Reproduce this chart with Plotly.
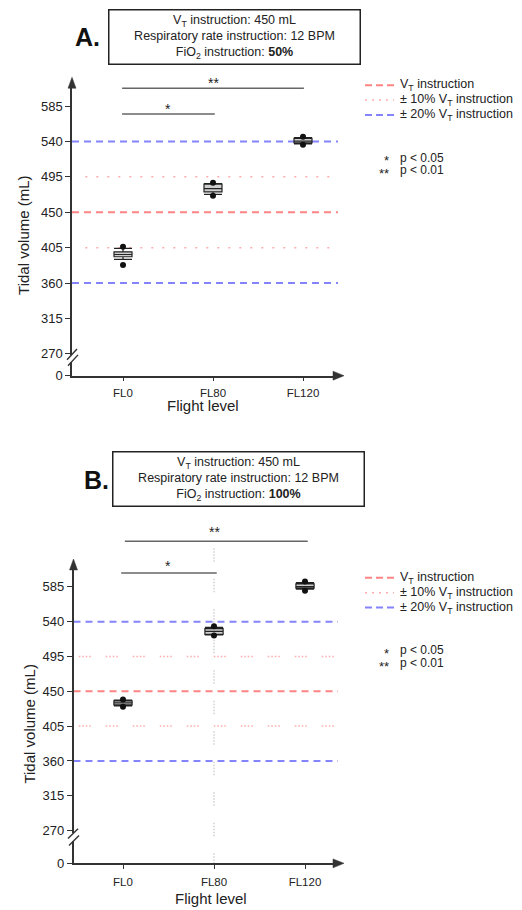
import plotly.graph_objects as go

W, H = 522, 910

categories = ["FL0", "FL80", "FL120"]
y_ticks = [270, 315, 360, 405, 450, 495, 540, 585]

# Reference values (mL)
vt_instruction = 450
vt_10 = [405, 495]
vt_20 = [360, 540]

# Panel A (FiO2 50 %) box statistics, mL
a_lowfence = [390.0, 472.8, 537.0]
a_q1 = [393.4, 476.0, 538.3]
a_median = [396.3, 480.0, 540.4]
a_q3 = [399.7, 485.7, 544.0]
a_upfence = [404.0, 486.5, 545.0]
a_points_x = ["FL0", "FL0", "FL80", "FL80", "FL120", "FL120"]
a_points_y = [406.0, 383.0, 487.5, 471.0, 546.0, 535.7]

# Panel B (FiO2 100 %) box statistics, mL
b_lowfence = [431.0, 523.0, 582.0]
b_q1 = [432.5, 523.5, 583.3]
b_median = [435.0, 527.4, 585.3]
b_q3 = [437.5, 531.0, 588.8]
b_upfence = [438.5, 532.5, 590.5]
b_points_x = ["FL0", "FL0", "FL80", "FL80", "FL120", "FL120"]
b_points_y = [439.5, 430.0, 534.0, 522.0, 591.8, 580.0]


def X(px):
    return px / W


def Y(py):
    return 1 - py / H


FONT = "Liberation Sans, Arial, sans-serif"
TXT = "#222222"
AX = "#333333"
RED = "rgba(255,110,110,0.85)"
BLUE = "rgba(110,110,255,0.85)"
PINK = "rgba(255,150,150,0.8)"

fig = go.Figure()

panels = [
    dict(xa="x", ya="y", ys="y2", lowf=a_lowfence, q1=a_q1, med=a_median, q3=a_q3,
         upf=a_upfence, px=a_points_x, py=a_points_y),
    dict(xa="x2", ya="y3", ys="y4", lowf=b_lowfence, q1=b_q1, med=b_median, q3=b_q3,
         upf=b_upfence, px=b_points_x, py=b_points_y),
]

for p in panels:
    fig.add_trace(go.Box(
        x=categories, q1=p["q1"], median=p["med"], q3=p["q3"],
        lowerfence=p["lowf"], upperfence=p["upf"],
        xaxis=p["xa"], yaxis=p["ya"], width=0.2, whiskerwidth=1,
        fillcolor="#cfcfcf", line=dict(color="#222222", width=1.2),
        boxpoints=False, hoverinfo="skip", showlegend=False))
    fig.add_trace(go.Scatter(
        x=p["px"], y=p["py"], mode="markers", xaxis=p["xa"], yaxis=p["ya"],
        marker=dict(color="#111111", size=6), hoverinfo="skip", showlegend=False))
    fig.add_trace(go.Scatter(x=[], y=[], xaxis=p["xa"], yaxis=p["ys"],
                             showlegend=False, hoverinfo="skip"))

shapes = []
annotations = []


def ann(x, y, text, size=12, xanchor="center", yanchor="middle", xref="paper",
        yref="paper", **kw):
    d = dict(xref=xref, yref=yref, x=x, y=y, text=text, showarrow=False,
             xanchor=xanchor, yanchor=yanchor,
             font=dict(family=FONT, size=size, color=kw.pop("color", TXT)))
    d.update(kw)
    annotations.append(d)


dotdash_a = "2px,9px"
dotdash_b = "1.5px,2px,1.5px,2px,1.5px,2px,1.5px,15px"

for xa, ya, dots, x0dot in [("x", "y", dotdash_a, 0.05), ("x2", "y3", dotdash_b, 0.02)]:
    xd = xa + " domain"
    shapes.append(dict(type="line", xref=xd, yref=ya, x0=0, x1=1, y0=vt_instruction,
                       y1=vt_instruction, line=dict(color=RED, width=2, dash="7px,5px"),
                       layer="below"))
    for v in vt_20:
        shapes.append(dict(type="line", xref=xd, yref=ya, x0=0, x1=1, y0=v, y1=v,
                           line=dict(color=BLUE, width=2, dash="7px,5px"), layer="below"))
    for v in vt_10:
        shapes.append(dict(type="line", xref=xd, yref=ya, x0=x0dot, x1=1, y0=v, y1=v,
                           line=dict(color=PINK, width=1.5, dash=dots), layer="below"))

# faint gray dotted vertical line at FL80 in panel B
shapes.append(dict(type="line", xref="x2", yref="paper", x0="FL80", x1="FL80",
                   y0=Y(553), y1=Y(872),
                   line=dict(color="#c4c4c4", width=1.2,
                             dash="1.5px,1.5px,1.5px,1.5px,1.5px,1.5px,1.5px,1.5px,1.5px,17px"),
                   layer="below"))


def bracket(xa, c0, c1, py, label, label_x, label_py):
    shapes.append(dict(type="line", xref=xa, yref="paper", x0=c0, x1=c1,
                       y0=Y(py), y1=Y(py), line=dict(color="#666666", width=1.5)))
    ann(label_x, Y(label_py), label, size=14, xref=xa)


bracket("x", -0.01, 2.01, 89, "**", 1.0, 84)
bracket("x", -0.01, 1.02, 115, "*", 0.5, 110)
bracket("x2", 0.02, 2.03, 546, "**", 1.0, 537)
bracket("x2", -0.02, 1.03, 578, "*", 0.49, 571)


def tri_up(px, py):
    return dict(type="path", xref="paper", yref="paper",
                path=f"M {X(px)},{Y(py)} L {X(px-4)},{Y(py+11)} L {X(px+4)},{Y(py+11)} Z",
                fillcolor=AX, line=dict(color=AX, width=0.5))


def tri_right(px, py):
    return dict(type="path", xref="paper", yref="paper",
                path=f"M {X(px)},{Y(py)} L {X(px-11)},{Y(py-4.5)} L {X(px-11)},{Y(py+4.5)} Z",
                fillcolor=AX, line=dict(color=AX, width=0.5))


def stroke(x0, y0, x1, y1):
    return dict(type="line", xref="paper", yref="paper", x0=X(x0), y0=Y(y0),
                x1=X(x1), y1=Y(y1), line=dict(color=AX, width=1.4))


shapes += [tri_up(72, 78), tri_right(344, 379), tri_up(73.5, 564), tri_right(344, 871)]
shapes += [stroke(67, 363, 77, 352), stroke(68, 369, 78, 358)]
shapes += [stroke(68, 846, 78, 836), stroke(69, 853, 79, 843)]


def title_box(cx, cy, fio2, letter, lx, ly):
    ann(X(cx), Y(cy),
        ("V<sub>T</sub> instruction: 450 mL<br>Respiratory rate instruction: 12 BPM"
         f"<br>FiO<sub>2</sub> instruction: <b>{fio2}</b>"),
        size=12.5, align="center", width=244, height=47, borderpad=3,
        bordercolor="#222222", borderwidth=1.5, bgcolor="white")
    ann(X(lx), Y(ly), f"<b>{letter}</b>", size=25, color="#111111")


title_box(234, 37.5, "50%", "A.", 87, 37)
title_box(238, 483, "100%", "B.", 96, 484)


def legend(top):
    rows = [("V<sub>T</sub> instruction", RED, 2, "7px,4px"),
            ("± 10% V<sub>T</sub> instruction", PINK, 1.5, "2px,5px"),
            ("± 20% V<sub>T</sub> instruction", BLUE, 2, "7px,4px")]
    for i, (txt, col, w, d) in enumerate(rows):
        py = top + i * 15
        shapes.append(dict(type="line", xref="paper", yref="paper", x0=X(365), x1=X(394),
                           y0=Y(py), y1=Y(py), line=dict(color=col, width=w, dash=d)))
        ann(X(398), Y(py), txt, size=12.5, xanchor="left")
    for j, (st, lab) in enumerate([("*", "p < 0.05"), ("**", "p < 0.01")]):
        py = top + 73 + j * 13
        ann(X(391), Y(py + 3), st, size=13, xanchor="right")
        ann(X(398), Y(py), lab, size=12, xanchor="left")


legend(86)
legend(583)

for (tx, ty, tanchor, rx, ry) in [(203, 409, "middle", 24, 238), (211, 896, "top", 30, 731)]:
    ann(X(tx), Y(ty), "Flight level", size=15, yanchor=tanchor)
    ann(X(rx), Y(ry), "Tidal volume (mL)", size=15, textangle=-90)

common_axis = dict(showline=True, linecolor=AX, linewidth=1.5, showgrid=False,
                   zeroline=False, ticks="outside", tickwidth=1.2,
                   tickcolor=AX, fixedrange=True)
yfont = dict(family=FONT, size=13, color=TXT)
xfont = dict(family=FONT, size=11.5, color=TXT)

fig.update_layout(
    width=W, height=H, margin=dict(l=0, r=0, t=0, b=0),
    paper_bgcolor="white", plot_bgcolor="rgba(0,0,0,0)", showlegend=False,
    xaxis=dict(domain=[X(72), X(338)], anchor="y2", type="category",
               categoryorder="array", categoryarray=categories,
               range=[(72 - 123) / 90, (338 - 123) / 90], ticklen=4, tickfont=xfont,
               ticklabelstandoff=2, **common_axis),
    yaxis=dict(domain=[Y(358), Y(84)], anchor="x", range=[268.7, 614.0],
               tickvals=y_ticks, ticklen=5, tickfont=yfont, **common_axis),
    yaxis2=dict(domain=[Y(379), Y(365)], anchor="x", range=[0, 17.6],
                tickvals=[0], ticklen=5, tickfont=yfont, **common_axis),
    xaxis2=dict(domain=[X(73.5), X(338)], anchor="y4", type="category",
                categoryorder="array", categoryarray=categories,
                range=[(73.5 - 123) / 91, (338 - 123) / 91], ticklen=4, tickfont=xfont,
                ticklabelstandoff=3, **common_axis),
    yaxis3=dict(domain=[Y(840), Y(570)], anchor="x2", range=[267.4, 613.2],
                tickvals=y_ticks, ticklen=5, tickfont=yfont, **common_axis),
    yaxis4=dict(domain=[Y(871), Y(848)], anchor="x2", range=[0, 29.4],
                tickvals=[0], ticklen=5, tickfont=yfont, **common_axis),
    shapes=shapes, annotations=annotations,
)

fig.write_html("out.html", config={"displayModeBar": False},
               post_script="document.body.style.margin='0';document.body.style.overflow='hidden';")
